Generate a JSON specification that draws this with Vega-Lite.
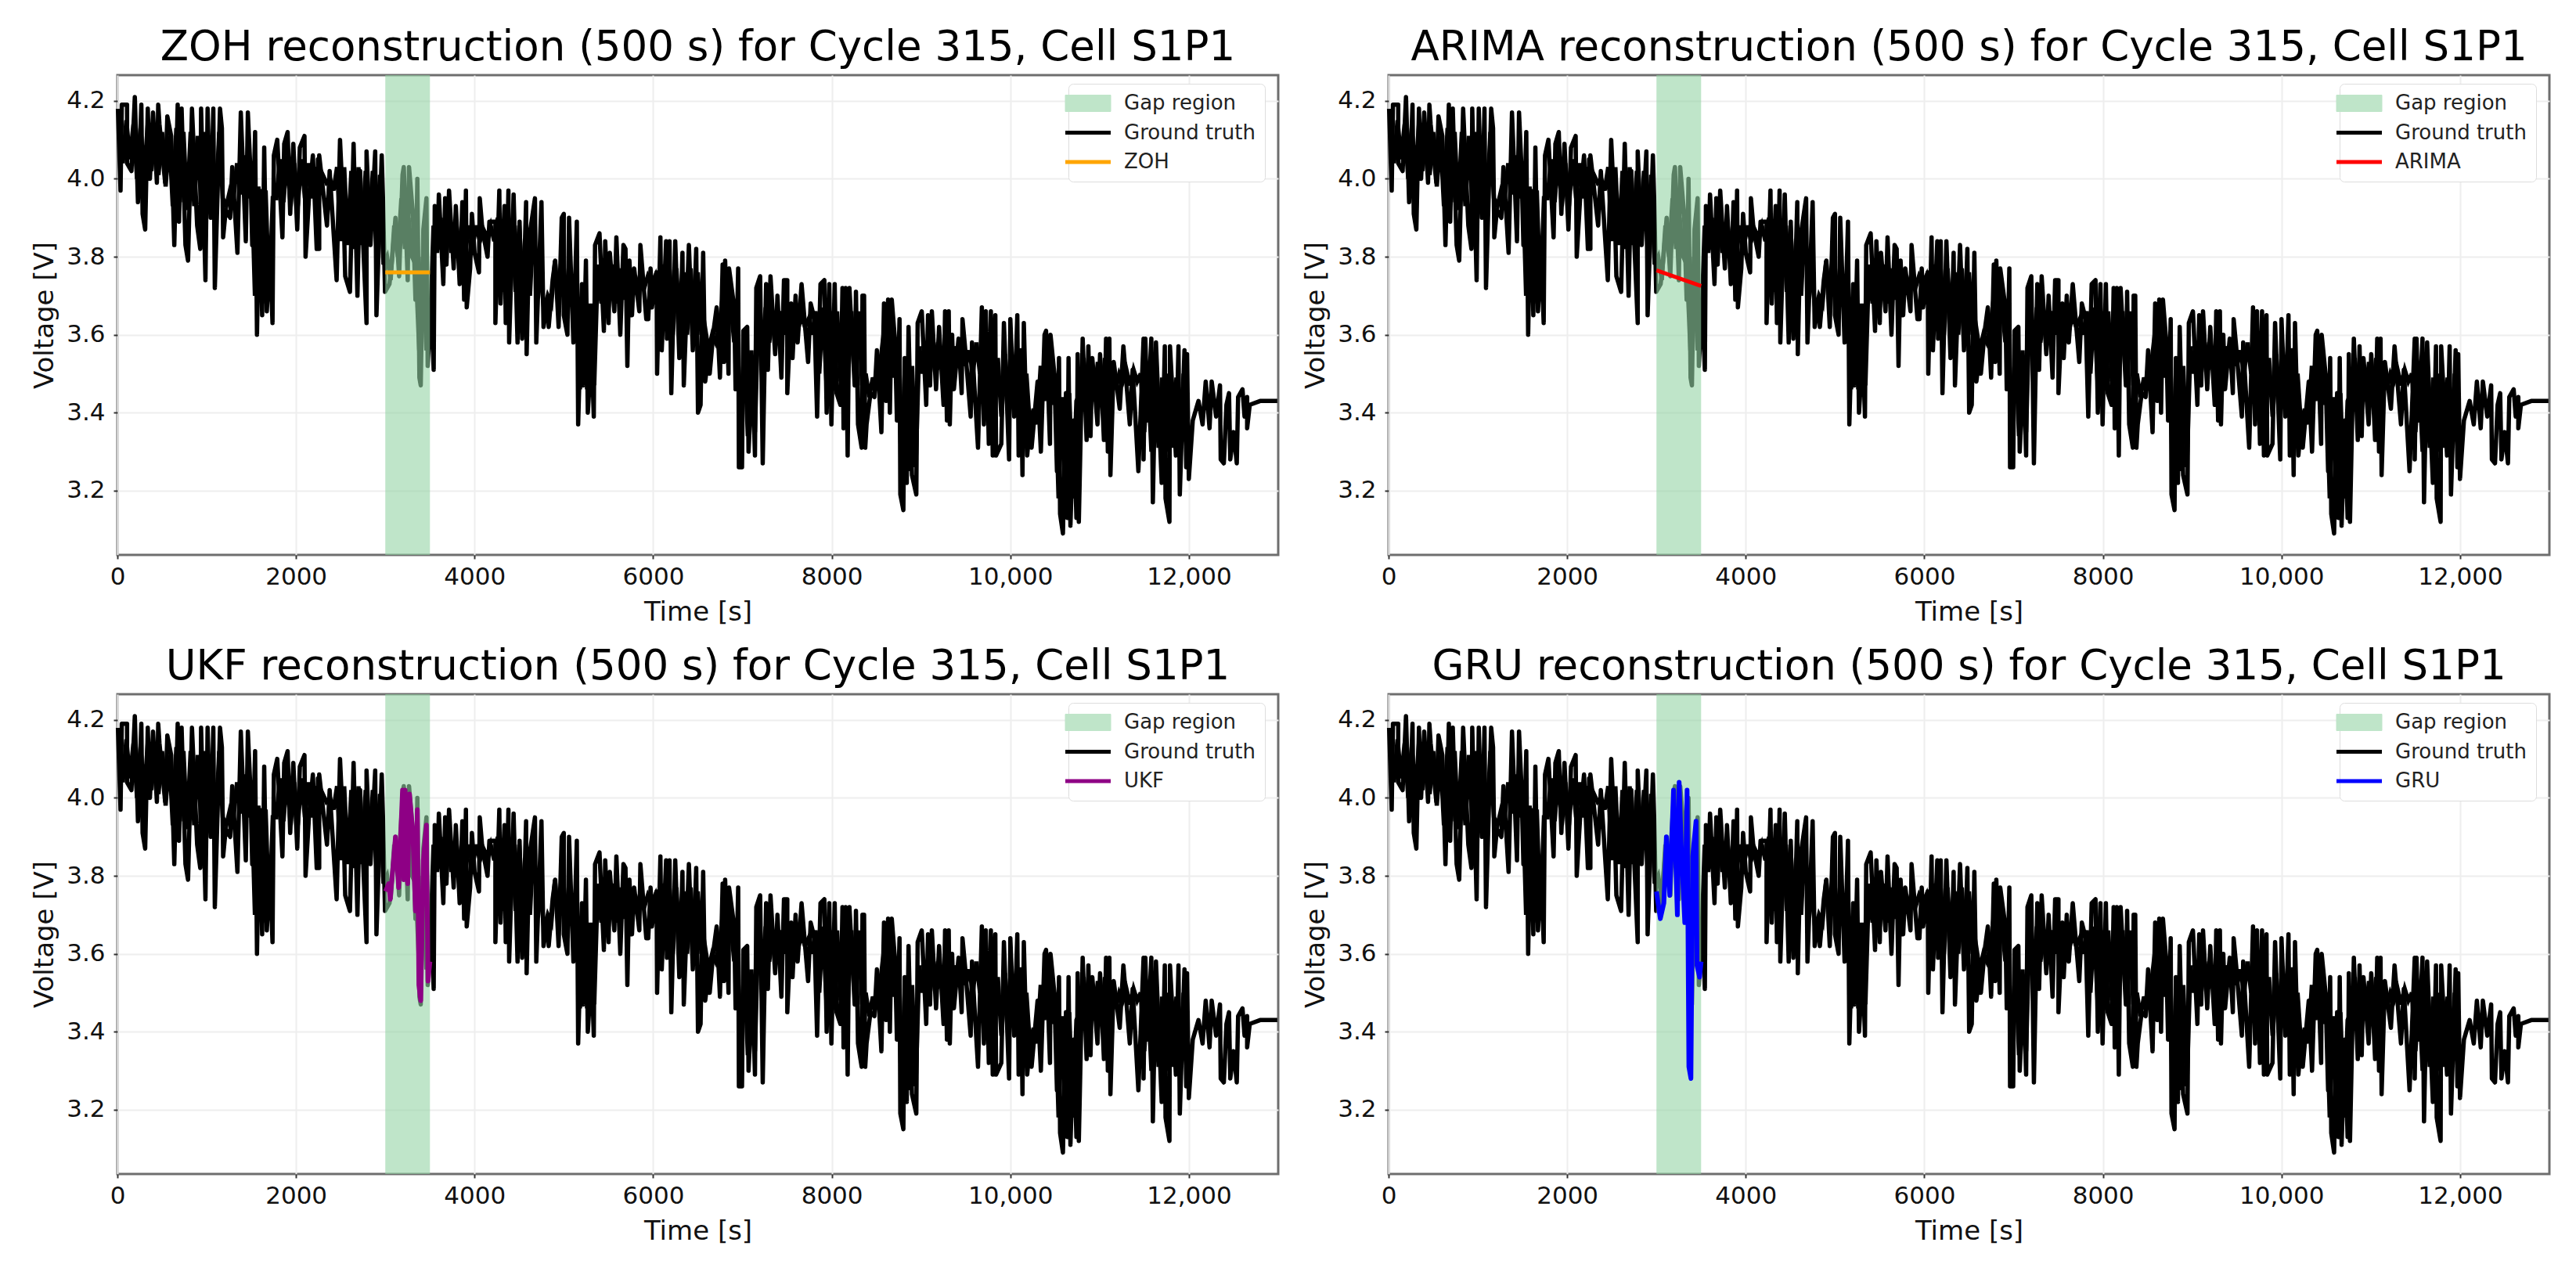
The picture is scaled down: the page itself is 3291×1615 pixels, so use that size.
{"$schema":"https://vega.github.io/schema/vega-lite/v6.json","background":"white","padding":{"left":39,"top":33,"right":0,"bottom":0},"bounds":"flush","columns":2,"spacing":{"row":178,"column":141},"resolve":{"scale":{"color":"independent"},"legend":{"color":"independent"}},
"config":{"view":{"stroke":"#6e6e6e","strokeWidth":3},"font":"DejaVu Sans","axis":{"domain":false,"grid":true,"gridColor":"#eeeeee","gridWidth":2,"tickColor":"#333","tickSize":5,"tickWidth":2,"labelFlush":false,"labelFont":"DejaVu Sans","labelFontSize":31,"labelColor":"#111","titleFont":"DejaVu Sans","titleFontSize":34,"titleFontWeight":"normal","titleColor":"#111"},"title":{"font":"DejaVu Sans","fontSize":53,"fontWeight":"normal","color":"#000","anchor":"middle","offset":8}},
"datasets":{"gap":[{"a":3000,"b":3500}],
"zoh":[{"t":3000,"v":3.76},{"t":3500,"v":3.76}],
"arima":[{"t":3000,"v":3.765},{"t":3500,"v":3.725}],
"ukf":[{"t":3003,"v":3.76},{"t":3038,"v":3.78},{"t":3056,"v":3.74},{"t":3114,"v":3.9},{"t":3149,"v":3.77},{"t":3193,"v":4.02},{"t":3207,"v":3.79},{"t":3222,"v":4.02},{"t":3251,"v":3.78},{"t":3271,"v":4.01},{"t":3309,"v":3.91},{"t":3338,"v":3.71},{"t":3359,"v":3.97},{"t":3376,"v":3.52},{"t":3397,"v":3.48},{"t":3426,"v":3.84},{"t":3461,"v":3.93},{"t":3478,"v":3.53},{"t":3500,"v":3.58}],
"gru":[{"t":3000,"v":3.76},{"t":3043,"v":3.69},{"t":3083,"v":3.73},{"t":3111,"v":3.9},{"t":3149,"v":3.75},{"t":3191,"v":4.02},{"t":3234,"v":3.7},{"t":3254,"v":4.04},{"t":3277,"v":3.88},{"t":3317,"v":3.68},{"t":3343,"v":4.02},{"t":3363,"v":3.31},{"t":3386,"v":3.28},{"t":3406,"v":3.85},{"t":3443,"v":3.94},{"t":3454,"v":3.57},{"t":3483,"v":3.54},{"t":3500,"v":3.58}],
"gtdense":[{"t":20,"v":4.14},{"t":60,"v":4.04},{"t":100,"v":4.15},{"t":140,"v":4.05},{"t":180,"v":4.14},{"t":220,"v":4.0},{"t":260,"v":4.13},{"t":300,"v":4.01},{"t":340,"v":4.14},{"t":380,"v":4.02},{"t":420,"v":4.12},{"t":460,"v":4.01},{"t":500,"v":4.12},{"t":540,"v":3.98},{"t":580,"v":4.11},{"t":620,"v":3.93},{"t":660,"v":4.13},{"t":700,"v":3.94},{"t":740,"v":4.12},{"t":780,"v":3.92},{"t":820,"v":4.12},{"t":860,"v":3.93},{"t":900,"v":4.11},{"t":940,"v":3.92},{"t":980,"v":4.12},{"t":1020,"v":3.93},{"t":1060,"v":4.11},{"t":1100,"v":3.92},{"t":1140,"v":4.12},{"t":1180,"v":3.95},{"t":1220,"v":3.93},{"t":1260,"v":3.97},{"t":1300,"v":3.95},{"t":1340,"v":4.04},{"t":1380,"v":3.96},{"t":1420,"v":4.06},{"t":1460,"v":3.95},{"t":1500,"v":4.03},{"t":1540,"v":3.7},{"t":1580,"v":3.98},{"t":1620,"v":3.68},{"t":1660,"v":3.97},{"t":1700,"v":3.69},{"t":1740,"v":3.95},{"t":1780,"v":3.95},{"t":1820,"v":4.05},{"t":1860,"v":3.94},{"t":1900,"v":4.06},{"t":1940,"v":3.93},{"t":1980,"v":4.04},{"t":2020,"v":3.93},{"t":2060,"v":4.05},{"t":2100,"v":3.95},{"t":2140,"v":4.04},{"t":2180,"v":3.95},{"t":2220,"v":4.03},{"t":2260,"v":3.98},{"t":2300,"v":4.01},{"t":2340,"v":3.99},{"t":2380,"v":4.0},{"t":2420,"v":3.97},{"t":2460,"v":4.03},{"t":2500,"v":3.84},{"t":2540,"v":4.03},{"t":2580,"v":3.83},{"t":2620,"v":4.02},{"t":2660,"v":3.82},{"t":2700,"v":4.03},{"t":2740,"v":3.83},{"t":2780,"v":4.02},{"t":2820,"v":3.84},{"t":2860,"v":4.02},{"t":2900,"v":3.82},{"t":2940,"v":4.01},{"t":2980,"v":3.78},{"t":3020,"v":3.8},{"t":3060,"v":3.74},{"t":3100,"v":3.88},{"t":3140,"v":3.8},{"t":3180,"v":3.95},{"t":3220,"v":3.82},{"t":3260,"v":3.9},{"t":3300,"v":3.8},{"t":3340,"v":3.78},{"t":3380,"v":3.56},{"t":3420,"v":3.8},{"t":3460,"v":3.56},{"t":3500,"v":3.6},{"t":3540,"v":3.88},{"t":3580,"v":3.81},{"t":3620,"v":3.9},{"t":3660,"v":3.8},{"t":3700,"v":3.9},{"t":3740,"v":3.81},{"t":3780,"v":3.88},{"t":3820,"v":3.8},{"t":3860,"v":3.89},{"t":3900,"v":3.82},{"t":3940,"v":3.88},{"t":3980,"v":3.83},{"t":4020,"v":3.88},{"t":4060,"v":3.84},{"t":4100,"v":3.87},{"t":4140,"v":3.85},{"t":4180,"v":3.88},{"t":4220,"v":3.84},{"t":4260,"v":3.9},{"t":4300,"v":3.71},{"t":4340,"v":3.9},{"t":4380,"v":3.7},{"t":4420,"v":3.89},{"t":4460,"v":3.71},{"t":4500,"v":3.88},{"t":4540,"v":3.72},{"t":4580,"v":3.86},{"t":4620,"v":3.7},{"t":4660,"v":3.89},{"t":4700,"v":3.72},{"t":4740,"v":3.75},{"t":4780,"v":3.66},{"t":4820,"v":3.7},{"t":4860,"v":3.68},{"t":4900,"v":3.79},{"t":4940,"v":3.68},{"t":4980,"v":3.8},{"t":5020,"v":3.69},{"t":5060,"v":3.78},{"t":5100,"v":3.7},{"t":5140,"v":3.72},{"t":5180,"v":3.46},{"t":5220,"v":3.7},{"t":5260,"v":3.46},{"t":5300,"v":3.68},{"t":5340,"v":3.47},{"t":5380,"v":3.78},{"t":5420,"v":3.68},{"t":5460,"v":3.78},{"t":5500,"v":3.67},{"t":5540,"v":3.78},{"t":5580,"v":3.68},{"t":5620,"v":3.77},{"t":5660,"v":3.69},{"t":5700,"v":3.77},{"t":5740,"v":3.7},{"t":5780,"v":3.76},{"t":5820,"v":3.72},{"t":5860,"v":3.76},{"t":5900,"v":3.72},{"t":5940,"v":3.75},{"t":5980,"v":3.73},{"t":6020,"v":3.75},{"t":6060,"v":3.65},{"t":6100,"v":3.78},{"t":6140,"v":3.62},{"t":6180,"v":3.78},{"t":6220,"v":3.6},{"t":6260,"v":3.77},{"t":6300,"v":3.61},{"t":6340,"v":3.76},{"t":6380,"v":3.6},{"t":6420,"v":3.77},{"t":6460,"v":3.6},{"t":6500,"v":3.76},{"t":6540,"v":3.6},{"t":6580,"v":3.62},{"t":6620,"v":3.56},{"t":6660,"v":3.6},{"t":6700,"v":3.58},{"t":6740,"v":3.62},{"t":6780,"v":3.7},{"t":6820,"v":3.6},{"t":6860,"v":3.7},{"t":6900,"v":3.6},{"t":6940,"v":3.62},{"t":6980,"v":3.33},{"t":7020,"v":3.58},{"t":7060,"v":3.34},{"t":7100,"v":3.56},{"t":7140,"v":3.35},{"t":7180,"v":3.68},{"t":7220,"v":3.56},{"t":7260,"v":3.67},{"t":7300,"v":3.58},{"t":7340,"v":3.66},{"t":7380,"v":3.6},{"t":7420,"v":3.66},{"t":7460,"v":3.6},{"t":7500,"v":3.66},{"t":7540,"v":3.61},{"t":7580,"v":3.65},{"t":7620,"v":3.61},{"t":7660,"v":3.65},{"t":7700,"v":3.62},{"t":7740,"v":3.64},{"t":7780,"v":3.6},{"t":7820,"v":3.66},{"t":7860,"v":3.5},{"t":7900,"v":3.67},{"t":7940,"v":3.48},{"t":7980,"v":3.66},{"t":8020,"v":3.49},{"t":8060,"v":3.66},{"t":8100,"v":3.48},{"t":8140,"v":3.67},{"t":8180,"v":3.48},{"t":8220,"v":3.66},{"t":8260,"v":3.49},{"t":8300,"v":3.66},{"t":8340,"v":3.47},{"t":8380,"v":3.5},{"t":8420,"v":3.44},{"t":8460,"v":3.49},{"t":8500,"v":3.46},{"t":8540,"v":3.52},{"t":8580,"v":3.6},{"t":8620,"v":3.48},{"t":8660,"v":3.6},{"t":8700,"v":3.49},{"t":8740,"v":3.58},{"t":8780,"v":3.26},{"t":8820,"v":3.52},{"t":8860,"v":3.25},{"t":8900,"v":3.52},{"t":8940,"v":3.26},{"t":8980,"v":3.57},{"t":9020,"v":3.5},{"t":9060,"v":3.58},{"t":9100,"v":3.5},{"t":9140,"v":3.58},{"t":9180,"v":3.51},{"t":9220,"v":3.57},{"t":9260,"v":3.5},{"t":9300,"v":3.57},{"t":9340,"v":3.51},{"t":9380,"v":3.57},{"t":9420,"v":3.53},{"t":9460,"v":3.57},{"t":9500,"v":3.52},{"t":9540,"v":3.56},{"t":9580,"v":3.5},{"t":9620,"v":3.58},{"t":9660,"v":3.5},{"t":9700,"v":3.55},{"t":9740,"v":3.4},{"t":9780,"v":3.55},{"t":9820,"v":3.38},{"t":9860,"v":3.54},{"t":9900,"v":3.39},{"t":9940,"v":3.55},{"t":9980,"v":3.38},{"t":10020,"v":3.54},{"t":10060,"v":3.4},{"t":10100,"v":3.55},{"t":10140,"v":3.38},{"t":10180,"v":3.5},{"t":10220,"v":3.36},{"t":10260,"v":3.41},{"t":10300,"v":3.37},{"t":10340,"v":3.52},{"t":10380,"v":3.43},{"t":10420,"v":3.55},{"t":10460,"v":3.42},{"t":10500,"v":3.5},{"t":10540,"v":3.18},{"t":10580,"v":3.44},{"t":10620,"v":3.17},{"t":10660,"v":3.45},{"t":10700,"v":3.18},{"t":10740,"v":3.43},{"t":10780,"v":3.45},{"t":10820,"v":3.54},{"t":10860,"v":3.43},{"t":10900,"v":3.54},{"t":10940,"v":3.44},{"t":10980,"v":3.53},{"t":11020,"v":3.43},{"t":11060,"v":3.54},{"t":11100,"v":3.44},{"t":11140,"v":3.52},{"t":11180,"v":3.46},{"t":11220,"v":3.5},{"t":11260,"v":3.48},{"t":11300,"v":3.51},{"t":11340,"v":3.47},{"t":11380,"v":3.51},{"t":11420,"v":3.48},{"t":11460,"v":3.5},{"t":11500,"v":3.35},{"t":11540,"v":3.5},{"t":11580,"v":3.3},{"t":11620,"v":3.5},{"t":11660,"v":3.31},{"t":11700,"v":3.49},{"t":11740,"v":3.3},{"t":11780,"v":3.5},{"t":11820,"v":3.31},{"t":11860,"v":3.49},{"t":11900,"v":3.3},{"t":11940,"v":3.5},{"t":11980,"v":3.3}],
"gt":[{"t":6,"v":4.18},{"t":35,"v":3.97},{"t":49,"v":4.19},{"t":108,"v":4.19},{"t":108,"v":4.04},{"t":157,"v":4.02},{"t":195,"v":4.21},{"t":230,"v":3.94},{"t":268,"v":4.19},{"t":282,"v":3.91},{"t":311,"v":3.87},{"t":340,"v":4.18},{"t":364,"v":4.0},{"t":399,"v":4.17},{"t":442,"v":3.99},{"t":457,"v":4.19},{"t":471,"v":4.14},{"t":535,"v":3.99},{"t":559,"v":4.16},{"t":602,"v":4.11},{"t":637,"v":3.83},{"t":675,"v":4.19},{"t":690,"v":3.89},{"t":719,"v":4.18},{"t":762,"v":3.83},{"t":791,"v":3.79},{"t":835,"v":4.18},{"t":893,"v":3.88},{"t":928,"v":3.82},{"t":937,"v":4.18},{"t":986,"v":3.74},{"t":1010,"v":4.18},{"t":1045,"v":3.9},{"t":1074,"v":4.18},{"t":1091,"v":3.72},{"t":1149,"v":4.18},{"t":1170,"v":4.13},{"t":1184,"v":3.85},{"t":1213,"v":3.92},{"t":1263,"v":3.9},{"t":1286,"v":4.03},{"t":1344,"v":3.81},{"t":1382,"v":4.17},{"t":1438,"v":3.84},{"t":1461,"v":4.17},{"t":1490,"v":4.02},{"t":1510,"v":3.83},{"t":1542,"v":4.12},{"t":1563,"v":3.6},{"t":1592,"v":3.97},{"t":1621,"v":3.65},{"t":1644,"v":4.08},{"t":1673,"v":3.66},{"t":1708,"v":3.81},{"t":1737,"v":3.63},{"t":1752,"v":4.06},{"t":1790,"v":4.1},{"t":1848,"v":3.85},{"t":1868,"v":4.09},{"t":1906,"v":4.12},{"t":1935,"v":3.91},{"t":1970,"v":4.09},{"t":2014,"v":3.87},{"t":2043,"v":4.08},{"t":2095,"v":4.11},{"t":2107,"v":3.8},{"t":2145,"v":3.95},{"t":2189,"v":4.06},{"t":2232,"v":3.82},{"t":2246,"v":4.05},{"t":2260,"v":3.82},{"t":2260,"v":4.06},{"t":2347,"v":3.88},{"t":2377,"v":4.02},{"t":2455,"v":3.74},{"t":2493,"v":4.1},{"t":2537,"v":3.88},{"t":2551,"v":3.75},{"t":2604,"v":3.71},{"t":2645,"v":4.09},{"t":2688,"v":3.7},{"t":2718,"v":4.02},{"t":2790,"v":3.63},{"t":2790,"v":4.07},{"t":2834,"v":3.83},{"t":2887,"v":4.07},{"t":2901,"v":3.65},{"t":2960,"v":4.06},{"t":2974,"v":3.95},{"t":2997,"v":3.71},{"t":3047,"v":3.73},{"t":3075,"v":3.79},{"t":3114,"v":3.9},{"t":3155,"v":3.75},{"t":3193,"v":4.01},{"t":3207,"v":4.03},{"t":3251,"v":3.74},{"t":3266,"v":4.03},{"t":3309,"v":3.91},{"t":3338,"v":3.69},{"t":3359,"v":4.0},{"t":3382,"v":3.49},{"t":3397,"v":3.47},{"t":3426,"v":3.87},{"t":3461,"v":3.95},{"t":3475,"v":3.52},{"t":3513,"v":3.69},{"t":3542,"v":3.51},{"t":3554,"v":3.93},{"t":3583,"v":3.82},{"t":3600,"v":3.96},{"t":3650,"v":3.73},{"t":3670,"v":3.95},{"t":3685,"v":3.78},{"t":3714,"v":3.97},{"t":3766,"v":3.77},{"t":3790,"v":3.93},{"t":3833,"v":3.73},{"t":3863,"v":3.94},{"t":3883,"v":3.69},{"t":3903,"v":3.97},{"t":3912,"v":3.67},{"t":3950,"v":3.77},{"t":3970,"v":3.91},{"t":4000,"v":3.81},{"t":4049,"v":3.76},{"t":4058,"v":3.95},{"t":4087,"v":3.87},{"t":4145,"v":3.8},{"t":4166,"v":3.89},{"t":4233,"v":3.89},{"t":4233,"v":3.63},{"t":4277,"v":3.97},{"t":4291,"v":3.68},{"t":4335,"v":3.93},{"t":4349,"v":3.63},{"t":4379,"v":3.97},{"t":4387,"v":3.58},{"t":4437,"v":3.96},{"t":4481,"v":3.58},{"t":4504,"v":3.89},{"t":4533,"v":3.59},{"t":4577,"v":3.94},{"t":4583,"v":3.55},{"t":4612,"v":3.85},{"t":4676,"v":3.95},{"t":4691,"v":3.58},{"t":4749,"v":3.94},{"t":4772,"v":3.62},{"t":4822,"v":3.69},{"t":4830,"v":3.62},{"t":4874,"v":3.74},{"t":4903,"v":3.79},{"t":4941,"v":3.62},{"t":4976,"v":3.9},{"t":4999,"v":3.91},{"t":4999,"v":3.65},{"t":5040,"v":3.6},{"t":5058,"v":3.9},{"t":5107,"v":3.58},{"t":5145,"v":3.89},{"t":5160,"v":3.37},{"t":5203,"v":3.73},{"t":5215,"v":3.47},{"t":5247,"v":3.79},{"t":5268,"v":3.4},{"t":5311,"v":3.56},{"t":5335,"v":3.39},{"t":5349,"v":3.83},{"t":5399,"v":3.86},{"t":5448,"v":3.61},{"t":5463,"v":3.84},{"t":5501,"v":3.63},{"t":5515,"v":3.81},{"t":5565,"v":3.66},{"t":5588,"v":3.85},{"t":5632,"v":3.6},{"t":5667,"v":3.83},{"t":5690,"v":3.82},{"t":5711,"v":3.52},{"t":5734,"v":3.79},{"t":5763,"v":3.65},{"t":5787,"v":3.77},{"t":5845,"v":3.66},{"t":5857,"v":3.83},{"t":5923,"v":3.64},{"t":5945,"v":3.64},{"t":5971,"v":3.77},{"t":5986,"v":3.67},{"t":6038,"v":3.76},{"t":6044,"v":3.5},{"t":6081,"v":3.85},{"t":6096,"v":3.56},{"t":6145,"v":3.84},{"t":6154,"v":3.59},{"t":6183,"v":3.84},{"t":6203,"v":3.45},{"t":6247,"v":3.84},{"t":6293,"v":3.54},{"t":6328,"v":3.81},{"t":6343,"v":3.47},{"t":6400,"v":3.83},{"t":6444,"v":3.56},{"t":6482,"v":3.82},{"t":6502,"v":3.4},{"t":6531,"v":3.42},{"t":6560,"v":3.81},{"t":6583,"v":3.48},{"t":6624,"v":3.56},{"t":6633,"v":3.5},{"t":6676,"v":3.61},{"t":6711,"v":3.67},{"t":6748,"v":3.49},{"t":6778,"v":3.78},{"t":6792,"v":3.53},{"t":6806,"v":3.79},{"t":6844,"v":3.5},{"t":6850,"v":3.77},{"t":6908,"v":3.67},{"t":6923,"v":3.46},{"t":6952,"v":3.77},{"t":6960,"v":3.26},{"t":6995,"v":3.26},{"t":7010,"v":3.61},{"t":7053,"v":3.62},{"t":7068,"v":3.3},{"t":7111,"v":3.51},{"t":7140,"v":3.29},{"t":7155,"v":3.72},{"t":7198,"v":3.75},{"t":7227,"v":3.27},{"t":7265,"v":3.73},{"t":7285,"v":3.51},{"t":7314,"v":3.75},{"t":7366,"v":3.55},{"t":7392,"v":3.7},{"t":7436,"v":3.49},{"t":7465,"v":3.74},{"t":7502,"v":3.74},{"t":7502,"v":3.45},{"t":7546,"v":3.68},{"t":7561,"v":3.54},{"t":7595,"v":3.7},{"t":7618,"v":3.58},{"t":7662,"v":3.73},{"t":7691,"v":3.65},{"t":7735,"v":3.53},{"t":7764,"v":3.68},{"t":7807,"v":3.64},{"t":7836,"v":3.39},{"t":7874,"v":3.73},{"t":7917,"v":3.74},{"t":7943,"v":3.4},{"t":7972,"v":3.73},{"t":7996,"v":3.37},{"t":8033,"v":3.73},{"t":8054,"v":3.45},{"t":8097,"v":3.42},{"t":8120,"v":3.72},{"t":8132,"v":3.36},{"t":8155,"v":3.72},{"t":8178,"v":3.29},{"t":8198,"v":3.72},{"t":8257,"v":3.47},{"t":8271,"v":3.71},{"t":8294,"v":3.37},{"t":8335,"v":3.31},{"t":8344,"v":3.7},{"t":8362,"v":3.7},{"t":8375,"v":3.31},{"t":8390,"v":3.37},{"t":8434,"v":3.45},{"t":8478,"v":3.44},{"t":8506,"v":3.56},{"t":8556,"v":3.35},{"t":8585,"v":3.68},{"t":8608,"v":3.43},{"t":8631,"v":3.69},{"t":8651,"v":3.4},{"t":8672,"v":3.69},{"t":8710,"v":3.58},{"t":8730,"v":3.38},{"t":8759,"v":3.64},{"t":8768,"v":3.19},{"t":8802,"v":3.15},{"t":8817,"v":3.54},{"t":8840,"v":3.22},{"t":8860,"v":3.62},{"t":8898,"v":3.24},{"t":8947,"v":3.19},{"t":8962,"v":3.63},{"t":9008,"v":3.66},{"t":9058,"v":3.42},{"t":9078,"v":3.65},{"t":9101,"v":3.47},{"t":9121,"v":3.66},{"t":9168,"v":3.46},{"t":9202,"v":3.62},{"t":9252,"v":3.42},{"t":9269,"v":3.66},{"t":9290,"v":3.38},{"t":9310,"v":3.66},{"t":9322,"v":3.37},{"t":9348,"v":3.6},{"t":9368,"v":3.46},{"t":9420,"v":3.59},{"t":9455,"v":3.45},{"t":9464,"v":3.64},{"t":9492,"v":3.57},{"t":9556,"v":3.39},{"t":9571,"v":3.58},{"t":9594,"v":3.48},{"t":9638,"v":3.31},{"t":9681,"v":3.67},{"t":9704,"v":3.37},{"t":9725,"v":3.66},{"t":9759,"v":3.32},{"t":9782,"v":3.66},{"t":9803,"v":3.29},{"t":9832,"v":3.65},{"t":9840,"v":3.29},{"t":9899,"v":3.32},{"t":9928,"v":3.63},{"t":9986,"v":3.28},{"t":10000,"v":3.64},{"t":10043,"v":3.39},{"t":10078,"v":3.65},{"t":10093,"v":3.29},{"t":10116,"v":3.56},{"t":10136,"v":3.24},{"t":10151,"v":3.63},{"t":10189,"v":3.29},{"t":10218,"v":3.37},{"t":10238,"v":3.31},{"t":10305,"v":3.48},{"t":10342,"v":3.3},{"t":10383,"v":3.6},{"t":10400,"v":3.61},{"t":10444,"v":3.32},{"t":10450,"v":3.6},{"t":10493,"v":3.5},{"t":10522,"v":3.25},{"t":10545,"v":3.54},{"t":10557,"v":3.14},{"t":10589,"v":3.09},{"t":10623,"v":3.45},{"t":10638,"v":3.13},{"t":10652,"v":3.54},{"t":10673,"v":3.11},{"t":10710,"v":3.38},{"t":10740,"v":3.13},{"t":10754,"v":3.55},{"t":10767,"v":3.12},{"t":10810,"v":3.59},{"t":10854,"v":3.33},{"t":10874,"v":3.57},{"t":10898,"v":3.34},{"t":10918,"v":3.54},{"t":10976,"v":3.37},{"t":11005,"v":3.55},{"t":11048,"v":3.33},{"t":11072,"v":3.59},{"t":11092,"v":3.3},{"t":11109,"v":3.59},{"t":11121,"v":3.24},{"t":11158,"v":3.53},{"t":11225,"v":3.41},{"t":11266,"v":3.57},{"t":11338,"v":3.37},{"t":11370,"v":3.51},{"t":11434,"v":3.25},{"t":11492,"v":3.59},{"t":11492,"v":3.28},{"t":11512,"v":3.59},{"t":11536,"v":3.38},{"t":11579,"v":3.59},{"t":11596,"v":3.17},{"t":11631,"v":3.58},{"t":11695,"v":3.22},{"t":11730,"v":3.57},{"t":11738,"v":3.18},{"t":11782,"v":3.12},{"t":11788,"v":3.57},{"t":11854,"v":3.29},{"t":11883,"v":3.57},{"t":11898,"v":3.19},{"t":11950,"v":3.56},{"t":11970,"v":3.26},{"t":11979,"v":3.55},{"t":11999,"v":3.23},{"t":12043,"v":3.38},{"t":12107,"v":3.43},{"t":12153,"v":3.37},{"t":12188,"v":3.48},{"t":12231,"v":3.36},{"t":12255,"v":3.48},{"t":12304,"v":3.39},{"t":12348,"v":3.47},{"t":12356,"v":3.28},{"t":12391,"v":3.27},{"t":12420,"v":3.42},{"t":12449,"v":3.45},{"t":12463,"v":3.28},{"t":12501,"v":3.35},{"t":12536,"v":3.27},{"t":12551,"v":3.44},{"t":12600,"v":3.46},{"t":12623,"v":3.39},{"t":12652,"v":3.44},{"t":12652,"v":3.36},{"t":12681,"v":3.42},{"t":12797,"v":3.43},{"t":12956,"v":3.43},{"t":12990,"v":3.43}]},
"concat":[
{"width":1483,"height":613,"title":"ZOH reconstruction (500 s) for Cycle 315, Cell S1P1","layer":[
{"data":{"name":"gt"},"mark":{"type":"line","stroke":"#000","strokeWidth":5.5,"strokeJoin":"round"},"encoding":{"x":{"field":"t","type":"quantitative","sort":null,"title":"Time [s]","scale":{"domain":[0,13000],"nice":false},"axis":{"values":[0,2000,4000,6000,8000,10000,12000],"labelExpr":"datum.value>=10000?format(datum.value,','):format(datum.value,'d')","labelPadding":8,"titlePadding":13}},"y":{"field":"v","type":"quantitative","title":"Voltage [V]","scale":{"domain":[3.035,4.266],"nice":false,"zero":false},"axis":{"values":[3.2,3.4,3.6,3.8,4.0,4.2],"format":".1f","labelPadding":11,"titlePadding":10}},"color":{"datum":"Ground truth","scale":{"domain":["Gap region","Ground truth","ZOH"],"range":["#bfe5c9","#000000","#ffa500"]},"legend":{"title":null,"orient":"none","legendX":1215,"legendY":11,"symbolType":"stroke","symbolSize":400,"rowPadding":11.5,"labelOffset":33,"labelLimit":400,"labelFont":"DejaVu Sans","labelFontSize":26,"labelColor":"#222","padding":12,"fillColor":"white","strokeColor":"#dddddd","cornerRadius":6,"encode":{"symbols":{"update":{"shape":{"signal":"datum.value==='Gap region'?'M-2.9,-1.05H2.9V1.05H-2.9Z':'M-2.9,0H2.9'"},"fill":{"signal":"datum.value==='Gap region'?'#bfe5c9':'transparent'"},"strokeWidth":{"signal":"datum.value==='Gap region'?1:5"}}}}}}}},
{"data":{"name":"gtdense"},"mark":{"type":"line","stroke":"#000","strokeWidth":5.5},"encoding":{"x":{"field":"t","type":"quantitative","sort":null},"y":{"field":"v","type":"quantitative"}}},
{"data":{"name":"gap"},"mark":{"type":"rect","fill":"rgb(148,212,165)","opacity":0.6},"encoding":{"x":{"field":"a","type":"quantitative"},"x2":{"field":"b"}}},
{"data":{"name":"zoh"},"mark":{"type":"line","strokeWidth":5},"encoding":{"x":{"field":"t","type":"quantitative","sort":null},"y":{"field":"v","type":"quantitative"},"color":{"datum":"ZOH"}}}]},
{"width":1483,"height":613,"title":"ARIMA reconstruction (500 s) for Cycle 315, Cell S1P1","layer":[
{"data":{"name":"gt"},"mark":{"type":"line","stroke":"#000","strokeWidth":5.5,"strokeJoin":"round"},"encoding":{"x":{"field":"t","type":"quantitative","sort":null,"title":"Time [s]","scale":{"domain":[0,13000],"nice":false},"axis":{"values":[0,2000,4000,6000,8000,10000,12000],"labelExpr":"datum.value>=10000?format(datum.value,','):format(datum.value,'d')","labelPadding":8,"titlePadding":13}},"y":{"field":"v","type":"quantitative","title":"Voltage [V]","scale":{"domain":[3.035,4.266],"nice":false,"zero":false},"axis":{"values":[3.2,3.4,3.6,3.8,4.0,4.2],"format":".1f","labelPadding":11,"titlePadding":10}},"color":{"datum":"Ground truth","scale":{"domain":["Gap region","Ground truth","ARIMA"],"range":["#bfe5c9","#000000","#ff0000"]},"legend":{"title":null,"orient":"none","legendX":1215,"legendY":11,"symbolType":"stroke","symbolSize":400,"rowPadding":11.5,"labelOffset":33,"labelLimit":400,"labelFont":"DejaVu Sans","labelFontSize":26,"labelColor":"#222","padding":12,"fillColor":"white","strokeColor":"#dddddd","cornerRadius":6,"encode":{"symbols":{"update":{"shape":{"signal":"datum.value==='Gap region'?'M-2.9,-1.05H2.9V1.05H-2.9Z':'M-2.9,0H2.9'"},"fill":{"signal":"datum.value==='Gap region'?'#bfe5c9':'transparent'"},"strokeWidth":{"signal":"datum.value==='Gap region'?1:5"}}}}}}}},
{"data":{"name":"gtdense"},"mark":{"type":"line","stroke":"#000","strokeWidth":5.5},"encoding":{"x":{"field":"t","type":"quantitative","sort":null},"y":{"field":"v","type":"quantitative"}}},
{"data":{"name":"gap"},"mark":{"type":"rect","fill":"rgb(148,212,165)","opacity":0.6},"encoding":{"x":{"field":"a","type":"quantitative"},"x2":{"field":"b"}}},
{"data":{"name":"arima"},"mark":{"type":"line","strokeWidth":5},"encoding":{"x":{"field":"t","type":"quantitative","sort":null},"y":{"field":"v","type":"quantitative"},"color":{"datum":"ARIMA"}}}]},
{"width":1483,"height":613,"title":"UKF reconstruction (500 s) for Cycle 315, Cell S1P1","layer":[
{"data":{"name":"gt"},"mark":{"type":"line","stroke":"#000","strokeWidth":5.5,"strokeJoin":"round"},"encoding":{"x":{"field":"t","type":"quantitative","sort":null,"title":"Time [s]","scale":{"domain":[0,13000],"nice":false},"axis":{"values":[0,2000,4000,6000,8000,10000,12000],"labelExpr":"datum.value>=10000?format(datum.value,','):format(datum.value,'d')","labelPadding":8,"titlePadding":13}},"y":{"field":"v","type":"quantitative","title":"Voltage [V]","scale":{"domain":[3.035,4.266],"nice":false,"zero":false},"axis":{"values":[3.2,3.4,3.6,3.8,4.0,4.2],"format":".1f","labelPadding":11,"titlePadding":10}},"color":{"datum":"Ground truth","scale":{"domain":["Gap region","Ground truth","UKF"],"range":["#bfe5c9","#000000","#8e0085"]},"legend":{"title":null,"orient":"none","legendX":1215,"legendY":11,"symbolType":"stroke","symbolSize":400,"rowPadding":11.5,"labelOffset":33,"labelLimit":400,"labelFont":"DejaVu Sans","labelFontSize":26,"labelColor":"#222","padding":12,"fillColor":"white","strokeColor":"#dddddd","cornerRadius":6,"encode":{"symbols":{"update":{"shape":{"signal":"datum.value==='Gap region'?'M-2.9,-1.05H2.9V1.05H-2.9Z':'M-2.9,0H2.9'"},"fill":{"signal":"datum.value==='Gap region'?'#bfe5c9':'transparent'"},"strokeWidth":{"signal":"datum.value==='Gap region'?1:5"}}}}}}}},
{"data":{"name":"gtdense"},"mark":{"type":"line","stroke":"#000","strokeWidth":5.5},"encoding":{"x":{"field":"t","type":"quantitative","sort":null},"y":{"field":"v","type":"quantitative"}}},
{"data":{"name":"gap"},"mark":{"type":"rect","fill":"rgb(148,212,165)","opacity":0.6},"encoding":{"x":{"field":"a","type":"quantitative"},"x2":{"field":"b"}}},
{"data":{"name":"ukf"},"mark":{"type":"line","strokeWidth":6,"strokeJoin":"round"},"encoding":{"x":{"field":"t","type":"quantitative","sort":null},"y":{"field":"v","type":"quantitative"},"color":{"datum":"UKF"}}}]},
{"width":1483,"height":613,"title":"GRU reconstruction (500 s) for Cycle 315, Cell S1P1","layer":[
{"data":{"name":"gt"},"mark":{"type":"line","stroke":"#000","strokeWidth":5.5,"strokeJoin":"round"},"encoding":{"x":{"field":"t","type":"quantitative","sort":null,"title":"Time [s]","scale":{"domain":[0,13000],"nice":false},"axis":{"values":[0,2000,4000,6000,8000,10000,12000],"labelExpr":"datum.value>=10000?format(datum.value,','):format(datum.value,'d')","labelPadding":8,"titlePadding":13}},"y":{"field":"v","type":"quantitative","title":"Voltage [V]","scale":{"domain":[3.035,4.266],"nice":false,"zero":false},"axis":{"values":[3.2,3.4,3.6,3.8,4.0,4.2],"format":".1f","labelPadding":11,"titlePadding":10}},"color":{"datum":"Ground truth","scale":{"domain":["Gap region","Ground truth","GRU"],"range":["#bfe5c9","#000000","#0000ff"]},"legend":{"title":null,"orient":"none","legendX":1215,"legendY":11,"symbolType":"stroke","symbolSize":400,"rowPadding":11.5,"labelOffset":33,"labelLimit":400,"labelFont":"DejaVu Sans","labelFontSize":26,"labelColor":"#222","padding":12,"fillColor":"white","strokeColor":"#dddddd","cornerRadius":6,"encode":{"symbols":{"update":{"shape":{"signal":"datum.value==='Gap region'?'M-2.9,-1.05H2.9V1.05H-2.9Z':'M-2.9,0H2.9'"},"fill":{"signal":"datum.value==='Gap region'?'#bfe5c9':'transparent'"},"strokeWidth":{"signal":"datum.value==='Gap region'?1:5"}}}}}}}},
{"data":{"name":"gtdense"},"mark":{"type":"line","stroke":"#000","strokeWidth":5.5},"encoding":{"x":{"field":"t","type":"quantitative","sort":null},"y":{"field":"v","type":"quantitative"}}},
{"data":{"name":"gap"},"mark":{"type":"rect","fill":"rgb(148,212,165)","opacity":0.6},"encoding":{"x":{"field":"a","type":"quantitative"},"x2":{"field":"b"}}},
{"data":{"name":"gru"},"mark":{"type":"line","strokeWidth":6,"strokeJoin":"round"},"encoding":{"x":{"field":"t","type":"quantitative","sort":null},"y":{"field":"v","type":"quantitative"},"color":{"datum":"GRU"}}}]}
]}
